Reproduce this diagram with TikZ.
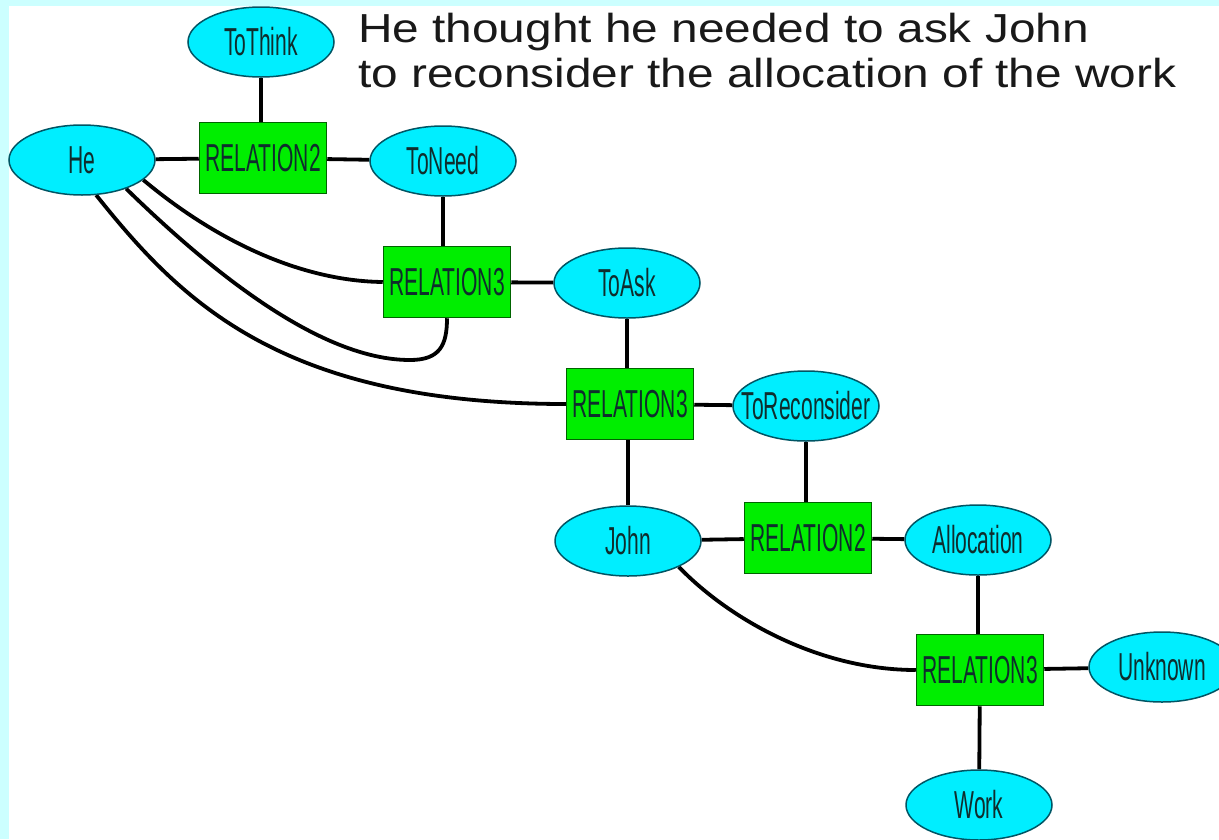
\documentclass[tikz,border=0pt]{standalone}
\usepackage{fontspec}
\setmainfont{Liberation Sans}
\newfontfamily\labelfont[FakeStretch=0.54]{Liberation Sans}
\newfontfamily\headfont[FakeStretch=1.18]{Liberation Sans}
\usetikzlibrary{shapes.geometric}

\definecolor{bgcyan}{RGB}{204,255,255}
\definecolor{conceptfill}{RGB}{0,238,255}
\definecolor{conceptedge}{RGB}{0,85,100}
\definecolor{relfill}{RGB}{0,238,0}
\definecolor{reledge}{RGB}{0,100,0}
\definecolor{labeltext}{RGB}{15,45,45}
\definecolor{headtext}{RGB}{25,25,25}

\pgfdeclarelayer{paper}
\pgfdeclarelayer{links}
\pgfsetlayers{paper,links,main}

% zero-width label so the node keeps its fixed size
\newcommand{\clabel}[1]{\makebox[0pt]{#1}}

\tikzset{
  concept/.style={ellipse, draw=conceptedge, line width=1.5pt, fill=conceptfill,
    minimum width=146pt, minimum height=70pt, inner sep=0pt,
    font=\labelfont\fontsize{39}{41}\selectfont, text=labeltext},
  relation/.style={rectangle, draw=reledge, line width=1.5pt, fill=relfill,
    minimum width=127pt, minimum height=71pt, inner sep=0pt,
    font=\labelfont\fontsize{39}{41}\selectfont, text=labeltext},
  link/.style={line width=3.8pt, draw=black},
  headline/.style={anchor=base west, inner sep=0pt,
    font=\headfont\fontsize{40.5}{45}\selectfont, text=headtext},
}

\begin{document}
\begin{tikzpicture}[x=1pt, y=-1pt]
\useasboundingbox (0,0) rectangle (1219,839);

\begin{pgfonlayer}{paper}
  \fill[white] (0,0) rectangle (1219,839);
  \fill[bgcyan] (0,0) rectangle (1219,6);
  \fill[bgcyan] (0,0) rectangle (9,839);
\end{pgfonlayer}

% sentence
\node[headline] (headA) at (358,42) {He thought he needed to ask John};
\node[headline] (headB) at (358,87) {to reconsider the allocation of the work};

% concepts
\node[concept] (he)       at (82,160)   {\clabel{He}};
\node[concept] (tothink)  at (261,42)   {\clabel{ToThink}};
\node[concept] (toneed)   at (443,161)  {\clabel{ToNeed}};
\node[concept] (toask)    at (627,283)  {\clabel{ToAsk}};
\node[concept] (torecons) at (806,406)  {\clabel{ToReconsider}};
\node[concept] (john)     at (628,541)  {\clabel{John}};
\node[concept] (alloc)    at (978,540)  {\clabel{Allocation}};
\node[concept] (unknown)  at (1162,667) {\clabel{Unknown}};
\node[concept] (work)     at (979,805)  {\clabel{Work}};

% relations
\node[relation] (relA) at (263,158) {\clabel{RELATION2}};
\node[relation] (relB) at (447,282) {\clabel{RELATION3}};
\node[relation] (relC) at (630,404) {\clabel{RELATION3}};
\node[relation] (relD) at (808,538) {\clabel{RELATION2}};
\node[relation] (relE) at (980,670) {\clabel{RELATION3}};

\begin{pgfonlayer}{links}
  % straight links
  \draw[link] (tothink) -- (tothink |- relA.north);
  \draw[link] (he) -- (relA);
  \draw[link] (relA) -- (toneed);
  \draw[link] (toneed) -- (toneed |- relB.north);
  \draw[link] (relB) -- (toask);
  \draw[link] (toask) -- (toask |- relC.north);
  \draw[link] (relC) -- (torecons);
  \draw[link] (relC.south -| john) -- (john);
  \draw[link] (torecons) -- (torecons |- relD.north);
  \draw[link] (john) -- (relD);
  \draw[link] (relD) -- (alloc);
  \draw[link] (alloc) -- (alloc |- relE.north);
  \draw[link] (relE) -- (unknown);
  \draw[link] (relE) -- (work);

  % curved links
  \draw[link] (he.-18) .. controls (215,240) and (300,281) .. (relB.west);
  \draw[link] (he.-33) .. controls (230,290) and (330,360) .. (410,360)
                       .. controls (440,360) and (447,345) .. (relB.south);
  \draw[link] (he.-68) .. controls (180,300) and (280,404) .. (relC.west);
  \draw[link] (john.-27) .. controls (730,620) and (820,670) .. (relE.west);
\end{pgfonlayer}
\end{tikzpicture}
\end{document}
